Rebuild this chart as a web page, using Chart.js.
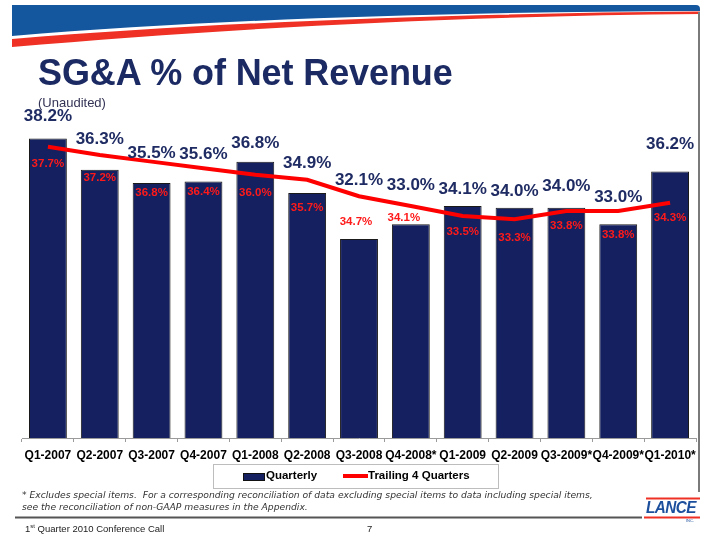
<!DOCTYPE html>
<html lang="en">
  <head>
    <meta charset="UTF-8" />
    <title>SG&amp;A % of Net Revenue</title>
    <script src="https://cdn.jsdelivr.net/npm/chart.js"></script>
    <style>
      body {
        margin: 0;
        width: 720px;
        height: 539px;
        position: relative;
        background: #fff;
        font-family: 'Liberation Sans', Arial, sans-serif;
        overflow: hidden;
      }
      #chart {
        position: absolute;
        left: 0;
        top: 0;
      }
      .abs {
        position: absolute;
        white-space: nowrap;
      }
      h1 {
        position: absolute;
        left: 38px;
        top: 53px;
        margin: 0;
        font-size: 36px;
        font-weight: bold;
        color: #1b2a63;
        line-height: 40px;
        letter-spacing: -0.1px;
      }
      .legend {
        left: 213px;
        top: 464px;
        width: 284px;
        height: 23px;
        border: 1px solid #bdbdbd;
        font-size: 11.5px;
        font-weight: bold;
        color: #000;
      }
      .note {
        left: 22px;
        font-family: 'DejaVu Sans', Verdana, sans-serif;
        font-style: italic;
        font-size: 9.2px;
        color: #333;
      }
      .logo {
        left: 646px;
        top: 499px;
        font-family: 'Liberation Sans Narrow', 'Liberation Sans', Arial, sans-serif;
        font-weight: bold;
        font-style: italic;
        font-size: 17px;
        color: #1c4f9c;
        letter-spacing: -0.6px;
        line-height: 18px;
        transform: scaleX(0.9);
        transform-origin: left top;
      }
    </style>
  </head>
  <body>
    <svg class="abs" style="left:0;top:0" width="720" height="539">
      <path d="M12,5 L696,5 Q700,5 700,9 L700,11 C450,12 220,19 12,36 Z" fill="#14579f" />
      <path d="M700,11.5 C450,13.5 220,22 12,39 L12,47 C220,29 450,16 700,14 Z" fill="#ee3124" />
      <line x1="699" y1="12" x2="699" y2="492" stroke="#7a7a7a" stroke-width="2" />
      <line x1="15" y1="517.5" x2="642" y2="517.5" stroke="#555" stroke-width="2" />
      <line x1="646" y1="498.5" x2="700" y2="498.5" stroke="#ee3124" stroke-width="2" />
      <line x1="644" y1="517.5" x2="700" y2="517.5" stroke="#ee3124" stroke-width="2" />
    </svg>

    <canvas id="chart" width="720" height="539"></canvas>

    <h1>SG&amp;A % of Net Revenue</h1>
    <div class="abs" style="left:38px;top:95px;font-size:13px;color:#333355">(Unaudited)</div>

    <div class="abs legend">
      <span class="abs" style="left:29px;top:8px;width:20px;height:6px;background:#142060;border:1px solid #111"></span>
      <span class="abs" style="left:52px;top:4px">Quarterly</span>
      <span class="abs" style="left:129px;top:9px;width:25px;height:4px;background:#ff0000"></span>
      <span class="abs" style="left:154px;top:4px">Trailing 4 Quarters</span>
    </div>

    <div class="abs note" style="top:489px">* Excludes special items.&nbsp; For a corresponding reconciliation of data excluding special items to data including special items,</div>
    <div class="abs note" style="top:501px">see the reconciliation of non-GAAP measures in the Appendix.</div>

    <div class="abs logo">LANCE</div>
    <div class="abs" style="left:686px;top:518px;font-size:4px;color:#1c4f9c">INC.</div>

    <div class="abs" style="left:25px;top:523px;font-size:9.5px;color:#222">1<sup style="font-size:6px">st</sup> Quarter 2010 Conference Call</div>
    <div class="abs" style="left:367px;top:523px;font-size:9.5px;color:#222">7</div>

    <script>
      const quarters = [
        'Q1-2007', 'Q2-2007', 'Q3-2007', 'Q4-2007', 'Q1-2008', 'Q2-2008', 'Q3-2008',
        'Q4-2008*', 'Q1-2009', 'Q2-2009', 'Q3-2009*', 'Q4-2009*', 'Q1-2010*',
      ]
      const quarterlyPct = [38.2, 36.3, 35.5, 35.6, 36.8, 34.9, 32.1, 33.0, 34.1, 34.0, 34.0, 33.0, 36.2]
      const trailingPct = [37.7, 37.2, 36.8, 36.4, 36.0, 35.7, 34.7, 34.1, 33.5, 33.3, 33.8, 33.8, 34.3]

      // where the value labels sit (px), as placed on the slide
      const barLabelLift = [22, 31, 30, 27, 18, 30, 59, 39, 17, 16, 21, 27, 27]
      const lineLabelDrop = [17, 23, 31, 24, 18, 28, 26, 12, 16, 19, 15, 24, 15]
      const lineLabelShift = [0, 0, 0, 0, 0, 0, -3, -7, 0, 0, 0, 0, 0]

      const valueLabels = {
        id: 'valueLabels',
        afterDatasetsDraw(chart) {
          const ctx = chart.ctx
          ctx.save()
          ctx.textAlign = 'center'
          ctx.textBaseline = 'middle'

          const bars = chart.getDatasetMeta(0).data
          ctx.fillStyle = '#1f2b63'
          ctx.font = 'bold 17px "Liberation Sans", Arial, sans-serif'
          bars.forEach((bar, i) => {
            ctx.fillText(quarterlyPct[i].toFixed(1) + '%', bar.x, bar.y - barLabelLift[i])
          })

          const points = chart.getDatasetMeta(1).data
          ctx.fillStyle = '#ff1a1a'
          ctx.font = 'bold 11.5px "Liberation Sans", Arial, sans-serif'
          points.forEach((pt, i) => {
            ctx.fillText(trailingPct[i].toFixed(1) + '%', pt.x + lineLabelShift[i], pt.y + lineLabelDrop[i])
          })
          ctx.restore()
        },
      }

      new Chart(document.getElementById('chart'), {
        type: 'bar',
        data: {
          labels: quarters,
          datasets: [
            {
              label: 'Quarterly',
              data: quarterlyPct,
              backgroundColor: '#142060',
              borderColor: '#1a1a1a',
              borderWidth: 1,
              categoryPercentage: 1,
              barPercentage: 0.73,
              order: 1,
            },
            {
              type: 'line',
              label: 'Trailing 4 Quarters',
              data: trailingPct,
              borderColor: '#ff0000',
              borderWidth: 4,
              pointRadius: 0,
              tension: 0,
              order: 0,
            },
          ],
        },
        options: {
          responsive: false,
          animation: false,
          devicePixelRatio: 1,
          layout: { padding: { left: 22, right: 24, top: 109, bottom: 71 } },
          plugins: {
            legend: { display: false },
            tooltip: { enabled: false },
          },
          scales: {
            x: {
              afterFit: (scale) => {
                scale.height = 30
              },
              grid: {
                drawOnChartArea: false,
                drawTicks: true,
                tickLength: 4,
                color: '#9a9a9a',
              },
              border: { display: true, color: '#9a9a9a' },
              ticks: {
                padding: 6,
                color: '#000',
                font: { family: '"Liberation Sans", Arial, sans-serif', size: 12, weight: 'bold' },
                maxRotation: 0,
                autoSkip: false,
              },
            },
            y: {
              display: false,
              min: 20,
              max: 40,
            },
          },
        },
        plugins: [valueLabels],
      })
    </script>
  </body>
</html>
